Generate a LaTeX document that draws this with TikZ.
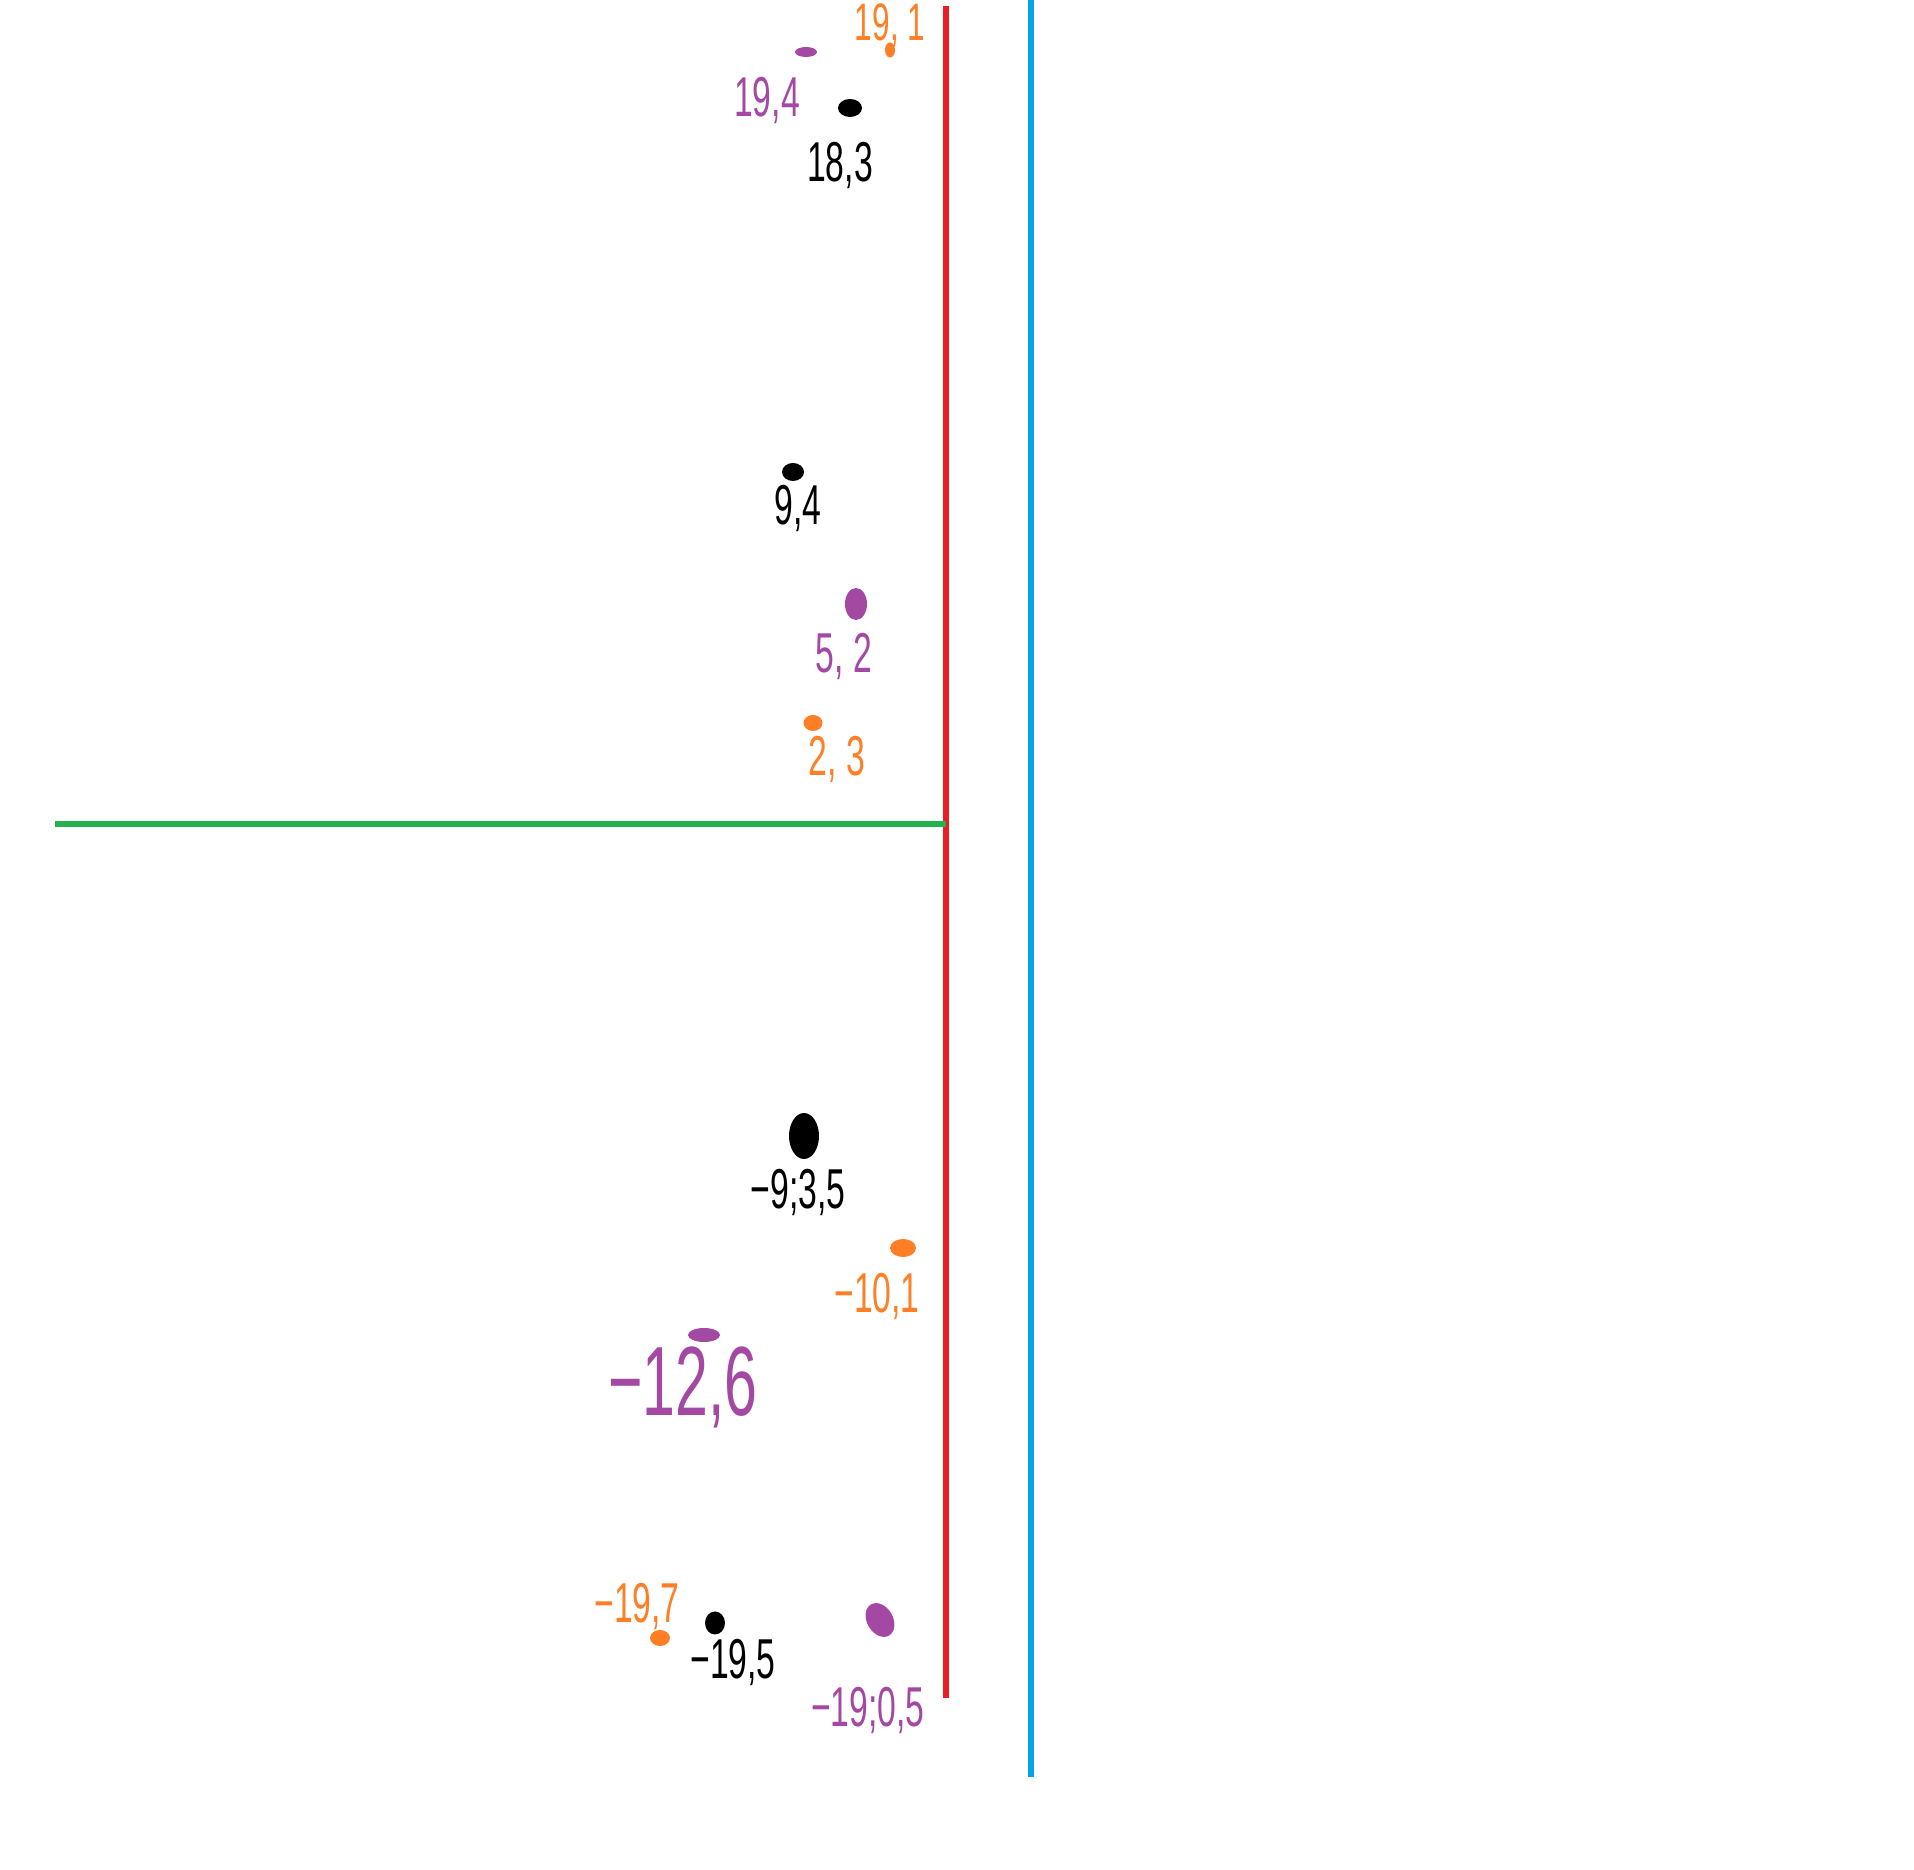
\documentclass[tikz,border=0pt]{standalone}
\usepackage{fontspec}
\newfontfamily\handfont[FakeStretch=0.6]{Liberation Sans}
\usetikzlibrary{shapes.geometric}
\definecolor{merahsk}{RGB}{237,28,36}
\definecolor{birusk}{RGB}{0,162,232}
\definecolor{hijausk}{RGB}{34,177,76}
\definecolor{oranyesk}{RGB}{255,127,39}
\definecolor{ungusk}{RGB}{163,73,164}

\begin{document}
\begin{tikzpicture}[x=0.1mm, y=-0.1mm, font=\handfont\fontsize{16}{16}\selectfont,
                    blob/.style={ellipse, fill, inner sep=0pt},
                    garis/.style={line width=1.5pt}]
                \useasboundingbox (0,0) rectangle (1914,1870);
                \draw[garis, merahsk] (946,6) -- (946,1698);
                \draw[garis, birusk]  (1031,0) -- (1031,1777);
                \draw[garis, hijausk] (55,824) -- (946,824);
                % atas
                \node[blob, oranyesk, minimum width=1.0mm, minimum height=1.5mm] (d191) at (890,50) {};
                \node[oranyesk, inner sep=1pt, font=\handfont\fontsize{15}{15}\selectfont] (t191) at (890,25) {19, 1};
                \node[blob, ungusk, minimum width=2.2mm, minimum height=1.0mm] (d194) at (806,52) {};
                \node[ungusk] (t194) at (767,100) {19,4};
                \node[blob, minimum width=2.4mm, minimum height=1.8mm] (d183) at (850,108) {};
                \node (t183) at (840,165) {18,3};
                % tengah
                \node[blob, minimum width=2.2mm, minimum height=1.8mm] (d94) at (793,472) {};
                \node (t94) at (798,508) {9,4};
                \node[blob, ungusk, minimum width=2.2mm, minimum height=3.2mm] (d52) at (856,604) {};
                \node[ungusk] (t52) at (844,656) {5, 2};
                \node[blob, oranyesk, minimum width=1.9mm, minimum height=1.6mm] (d23) at (813,723) {};
                \node[oranyesk] (t23) at (837,759) {2, 3};
                % bawah
                \node[blob, minimum width=3.0mm, minimum height=4.6mm] (d935) at (804,1136) {};
                \node (t935) at (798,1192) {−9;3,5};
                \node[blob, oranyesk, minimum width=2.6mm, minimum height=1.8mm] (d101) at (903,1248) {};
                \node[oranyesk] (t101) at (877,1296) {−10,1};
                \node[blob, ungusk, minimum width=3.2mm, minimum height=1.4mm] (d126) at (704,1335) {};
                \node[ungusk, font=\handfont\fontsize{28}{28}\selectfont] (t126) at (683,1387) {−12,6};
                \node[blob, oranyesk, minimum width=2.0mm, minimum height=1.6mm] (d197) at (660,1638) {};
                \node[oranyesk] (t197) at (637,1606) {−19,7};
                \node[blob, minimum width=2.0mm, minimum height=2.3mm] (d195) at (715,1623) {};
                \node (t195) at (733,1662) {−19,5};
                \node[blob, ungusk, minimum width=2.6mm, minimum height=3.6mm, rotate=30] (d1905) at (880,1620) {};
                \node[ungusk] (t1905) at (868,1710) {−19;0,5};
            \end{tikzpicture}
\end{document}
